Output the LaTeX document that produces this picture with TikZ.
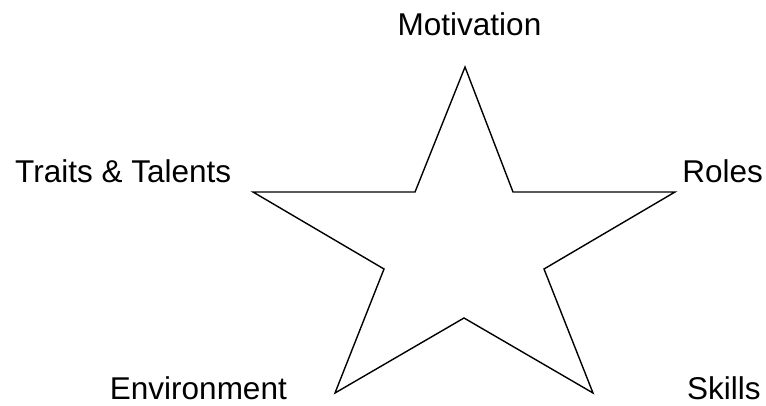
\documentclass[tikz,border=0pt]{standalone}
\usepackage{fontspec}
\setmainfont{Liberation Sans}
\begin{document}
\begin{tikzpicture}[x=1pt,y=-1pt,
  lbl/.style={inner sep=0pt,font=\fontsize{31.5}{38}\selectfont},
  starline/.style={draw=black,line width=1.4pt,line join=miter}]
\useasboundingbox (0,0) rectangle (766,406);
\coordinate (p1) at (465,67);
\coordinate (p2) at (513,192);
\coordinate (p3) at (675,192);
\coordinate (p4) at (544,269);
\coordinate (p5) at (593,393);
\coordinate (p6) at (464,318);
\coordinate (p7) at (335,393);
\coordinate (p8) at (384,269);
\coordinate (p9) at (253,192);
\coordinate (p10) at (415,192);
\draw[starline] (p1) -- (p2) -- (p3) -- (p4) -- (p5) -- (p6) -- (p7) -- (p8) -- (p9) -- (p10) -- cycle;
\node[lbl,anchor=base] (mot) at (469.5,36) {Motivation};
\node[lbl,anchor=base west] (tra) at (15,183) {Traits \& Talents};
\node[lbl,anchor=base east] (rol) at (763,183) {Roles};
\node[lbl,anchor=base east] (env) at (287,399) {Environment};
\node[lbl,anchor=base west] (ski) at (687,399) {Skills};
\end{tikzpicture}
\end{document}
